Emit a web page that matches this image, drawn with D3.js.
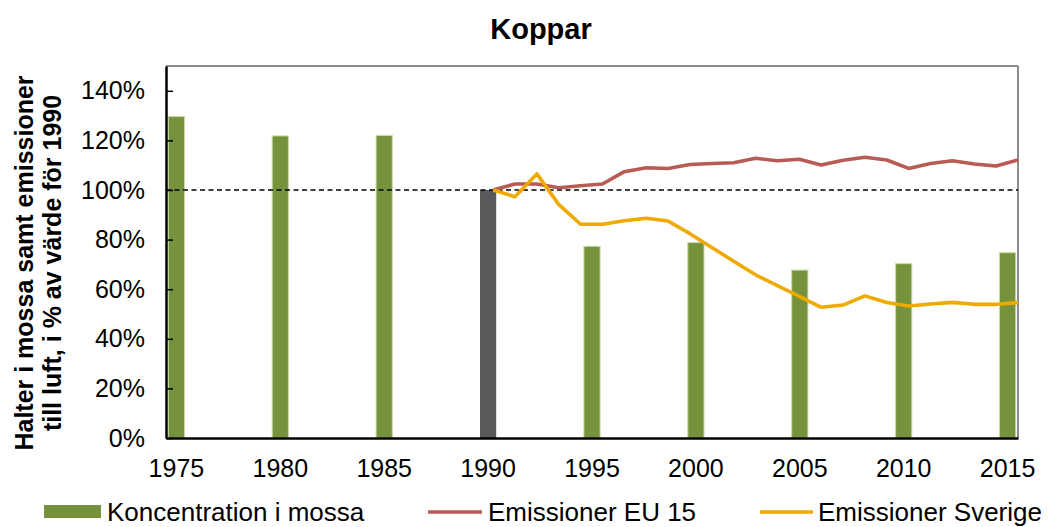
<!DOCTYPE html>
<html>
<head>
<meta charset="utf-8">
<script src="https://cdn.jsdelivr.net/npm/d3@7"></script>
<style>
  html, body { margin: 0; padding: 0; background: #fff; }
  svg { display: block; font-family: "Liberation Sans", Arial, sans-serif; }
</style>
</head>
<body>
<svg id="chart" width="1049" height="527"></svg>
<script>
// ---- data ----
const allYears = d3.range(1975, 2016);
const xTickYears = [1975, 1980, 1985, 1990, 1995, 2000, 2005, 2010, 2015];
const mossYears = [1975, 1980, 1985, 1990, 1995, 2000, 2005, 2010, 2015];
const mossValues = [129.6, 121.8, 122.0, 100, 77.3, 78.8, 67.7, 70.3, 74.7];
const lineYears = d3.range(1990, 2015);
const euValues = [100, 102.4, 102.4, 100.9, 101.7, 102.4, 107.4, 109.0, 108.7, 110.3,
                  110.7, 111.0, 112.8, 111.8, 112.4, 110.1, 112.0, 113.2, 112.1, 108.7,
                  110.7, 111.8, 110.5, 109.7, 112.1];
const seValues = [100, 97.3, 106.5, 94.2, 86.2, 86.2, 87.6, 88.6, 87.5, 82.4,
                  76.8, 71.3, 65.8, 61.4, 57.1, 52.7, 53.6, 57.3, 54.6, 53.2,
                  54.0, 54.7, 53.9, 53.9, 54.6];
const yTicks = [0, 20, 40, 60, 80, 100, 120, 140];
const title = "Koppar";
const yTitle = ["Halter i mossa samt emissioner", "till luft, i % av värde för 1990"];
const legendLabels = ["Koncentration i mossa", "Emissioner EU 15", "Emissioner Sverige"];

// ---- styles ----
const cGreen = "#76923C", cGreenEdge = "#C9D9A6", cGray = "#58595B";
const cEU = "#B85B55", cSE = "#EFAA00";

const svg = d3.select("#chart");
const margin = {left: 166, top: 66, right: 31, bottom: 89};
const W = 1049 - margin.left - margin.right;   // 852
const H = 527 - margin.top - margin.bottom;    // 372

const x = d3.scaleBand().domain(allYears).range([0, W]).padding(0);
const barW = x.bandwidth() * 0.78;
const y = d3.scaleLinear().domain([0, 150]).range([H, 0]);
const xl = d3.scalePoint().domain(lineYears).range([x(1990) + x.bandwidth() / 2 + 5, W]);

const g = svg.append("g").attr("transform", `translate(${margin.left},${margin.top})`);

// frame top/right (gray)
g.append("line").attr("x1", 0).attr("x2", W).attr("y1", 0).attr("y2", 0)
  .attr("stroke", "#8C8C8C").attr("stroke-width", 2);
g.append("line").attr("x1", W).attr("x2", W).attr("y1", 0).attr("y2", H)
  .attr("stroke", "#8C8C8C").attr("stroke-width", 2);

// bars
g.selectAll("rect.bar").data(mossYears.map((yr, i) => ({yr, v: mossValues[i]})))
  .enter().append("rect")
  .attr("class", "bar")
  .attr("x", d => x(d.yr) + (x.bandwidth() - barW) / 2)
  .attr("width", barW)
  .attr("y", d => y(d.v))
  .attr("height", d => H - y(d.v))
  .attr("fill", d => d.yr === 1990 ? cGray : cGreen)
  .attr("stroke", d => d.yr === 1990 ? "none" : cGreenEdge)
  .attr("stroke-width", 1);

// 100% reference line
g.append("line").attr("x1", 0).attr("x2", W).attr("y1", y(100)).attr("y2", y(100))
  .attr("stroke", "#000").attr("stroke-width", 1.3).attr("stroke-dasharray", "5,3.5");

// lines
const lineGen = d3.line().x((d, i) => xl(lineYears[i])).y(d => y(d));
g.append("path").datum(euValues).attr("d", lineGen)
  .attr("fill", "none").attr("stroke", cEU).attr("stroke-width", 3.6).attr("stroke-linejoin", "round");
g.append("path").datum(seValues).attr("d", lineGen)
  .attr("fill", "none").attr("stroke", cSE).attr("stroke-width", 3.6).attr("stroke-linejoin", "round");

// y axis
const yAxis = d3.axisLeft(y).tickValues(yTicks).tickFormat(d => d + "%").tickSizeInner(-7).tickSizeOuter(0).tickPadding(21);
const ya = g.append("g").call(yAxis);
ya.select(".domain").attr("stroke", "#000").attr("stroke-width", 2.5);
ya.selectAll(".tick line").attr("stroke", "#000").attr("stroke-width", 1.5);
ya.selectAll(".tick text").attr("font-size", 25).attr("fill", "#000")
  .attr("font-family", "'Liberation Sans', Arial, sans-serif");

// x axis
const xAxis = d3.axisBottom(x).tickValues(xTickYears).tickSize(0).tickPadding(21);
const xa = g.append("g").attr("transform", `translate(0,${H})`).call(xAxis);
xa.select(".domain").attr("stroke", "#000").attr("stroke-width", 2.5);
xa.selectAll(".tick text").attr("font-size", 25).attr("fill", "#000")
  .attr("font-family", "'Liberation Sans', Arial, sans-serif");

// title
svg.append("text").attr("x", 541).attr("y", 39).attr("text-anchor", "middle")
  .attr("font-size", 29).attr("font-weight", "bold").text(title);

// y title
yTitle.forEach((t, i) => {
  svg.append("text")
    .attr("transform", `translate(${33 + i * 28},263) rotate(-90)`)
    .attr("text-anchor", "middle").attr("font-size", 25).attr("font-weight", "bold")
    .text(t);
});

// legend
const lg = svg.append("g");
lg.append("rect").attr("x", 44).attr("y", 505).attr("width", 57).attr("height", 13).attr("fill", cGreen);
lg.append("text").attr("x", 107).attr("y", 521).attr("font-size", 26).text(legendLabels[0]);
lg.append("line").attr("x1", 428).attr("x2", 482).attr("y1", 512).attr("y2", 512)
  .attr("stroke", cEU).attr("stroke-width", 3.6);
lg.append("text").attr("x", 488).attr("y", 521).attr("font-size", 26).text(legendLabels[1]);
lg.append("line").attr("x1", 760).attr("x2", 813).attr("y1", 512).attr("y2", 512)
  .attr("stroke", cSE).attr("stroke-width", 3.6);
lg.append("text").attr("x", 818).attr("y", 521).attr("font-size", 26).text(legendLabels[2]);
</script>
</body>
</html>
